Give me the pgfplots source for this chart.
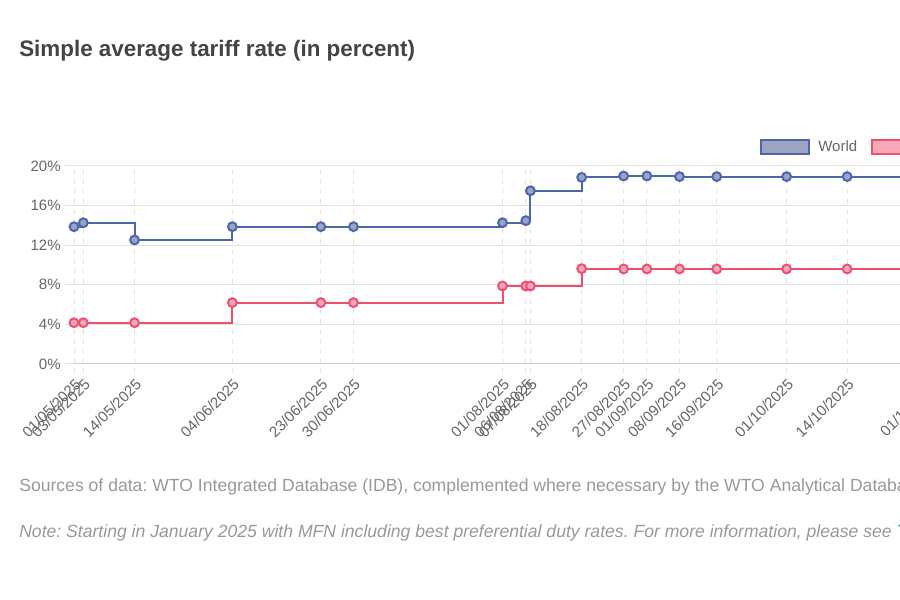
\documentclass[border=0pt]{standalone}
\usepackage{pgfplots}
\pgfplotsset{compat=1.18}
\usepackage{fontspec}
\setmainfont{Liberation Sans}
\frenchspacing

\definecolor{wblue}{RGB}{76,102,175}
\definecolor{wbluefill}{RGB}{155,165,194}
\definecolor{wred}{RGB}{240,80,110}
\definecolor{wredfill}{RGB}{247,169,184}
\definecolor{gridc}{RGB}{226,226,226}
\definecolor{axisc}{RGB}{204,204,204}
\definecolor{textc}{RGB}{102,102,102}
\definecolor{titlec}{RGB}{68,68,68}
\definecolor{srcc}{RGB}{153,153,153}
\definecolor{linkc}{RGB}{0,128,64}

\begin{document}
\begin{tikzpicture}[x=0.75pt,y=0.75pt]
% page is 900x600 px, 1px = 0.75pt
\fill[white] (0,0) rectangle (900,600);
\node[anchor=base west, inner sep=0pt, text=titlec,
      font=\fontsize{16.8}{20}\selectfont\bfseries] at (19,543)
  {Simple average tariff rate (in percent)};

\begin{axis}[
    at={(55.5pt,177pt)}, anchor=south west,
    scale only axis,
    width=642.75pt, height=148.5pt,
    xmin=0, xmax=184,
    ymin=0, ymax=20,
    clip=false,
    axis x line*=bottom,
    axis y line*=left,
    x axis line style={draw=axisc, line width=0.75pt, -},
    y axis line style={draw=none},
    tick align=outside,
    major tick length=6.5pt,
    x tick style={draw=gridc, line width=0.75pt, dash pattern=on 3.75pt off 3.75pt},
    y tick style={draw=gridc, line width=0.75pt},
    xmajorgrids, ymajorgrids,
    x grid style={draw=gridc, line width=0.75pt, dash pattern=on 3.75pt off 3.75pt},
    y grid style={draw=gridc, line width=0.75pt},
    xtick={0,2,13,34,53,60,92,97,98,109,118,123,130,138,153,166,184},
    xticklabels={01/05/2025,03/05/2025,14/05/2025,04/06/2025,23/06/2025,
                 30/06/2025,01/08/2025,06/08/2025,07/08/2025,18/08/2025,
                 27/08/2025,01/09/2025,08/09/2025,16/09/2025,01/10/2025,
                 14/10/2025,01/11/2025},
    ytick={0,4,8,12,16,20},
    yticklabel={\pgfmathprintnumber{\tick}\%},
    /pgf/number format/assume math mode=true,
    x tick label style={rotate=45, anchor=north east, text=textc,
                        font=\fontsize{11.25}{13}\selectfont, inner sep=2.5pt},
    y tick label style={text=textc, font=\fontsize{11.25}{13}\selectfont},
    legend columns=2,
    legend style={at={(0.8005,1.096)}, anchor=west, draw=none, fill=none,
                  inner sep=0pt, text=textc,
                  font=\fontsize{11.25}{13}\selectfont,
                  /tikz/every odd column/.append style={column sep=4pt},
                  /tikz/every even column/.append style={column sep=8.5pt}},
]
\addlegendimage{legend image code/.code={
    \draw[draw=wblue, fill=wbluefill, line width=1.5pt] (0pt,-5.25pt) rectangle (36pt,5.25pt);}}
\addlegendentry{World}
\addlegendimage{legend image code/.code={
    \draw[draw=wred, fill=wredfill, line width=1.5pt] (0pt,-5.25pt) rectangle (36pt,5.25pt);}}
\addlegendentry{Partner}

% World
\addplot[const plot, color=wblue, line width=1.5pt, forget plot,
         mark=*, mark size=3.3pt, mark options={fill=wbluefill, solid}]
coordinates {
  (0,13.87)(2,14.27)(13,12.53)(34,13.87)(53,13.87)(60,13.87)
  (92,14.27)(97,14.48)(98,17.5)(109,18.85)(118,18.99)(123,18.99)
  (130,18.93)(138,18.93)(153,18.93)(166,18.93)(184,18.93)
};
% second series
\addplot[const plot, color=wred, line width=1.5pt, forget plot,
         mark=*, mark size=3.3pt, mark options={fill=wredfill, solid}]
coordinates {
  (0,4.17)(2,4.17)(13,4.17)(34,6.2)(53,6.2)(60,6.2)
  (92,7.88)(97,7.88)(98,7.88)(109,9.63)(118,9.6)(123,9.6)
  (130,9.6)(138,9.6)(153,9.6)(166,9.6)(184,9.6)
};
\end{axis}

\node[anchor=base west, inner sep=0pt, text=srcc,
      font=\fontsize{13.2}{15}\selectfont] at (19,108)
  {Sources of data: WTO Integrated Database (IDB), complemented where necessary by the WTO Analytical Database (ADB).};
\node[anchor=base west, inner sep=0pt, text=srcc,
      font=\fontsize{13.2}{15}\selectfont\itshape] at (19,62)
  {Note: Starting in January 2025 with MFN including best preferential duty rates. For more information, please see \textcolor{linkc}{Technical notes}.};

\pgfresetboundingbox
\path[use as bounding box] (0,0) rectangle (900,600);
\end{tikzpicture}
\end{document}
